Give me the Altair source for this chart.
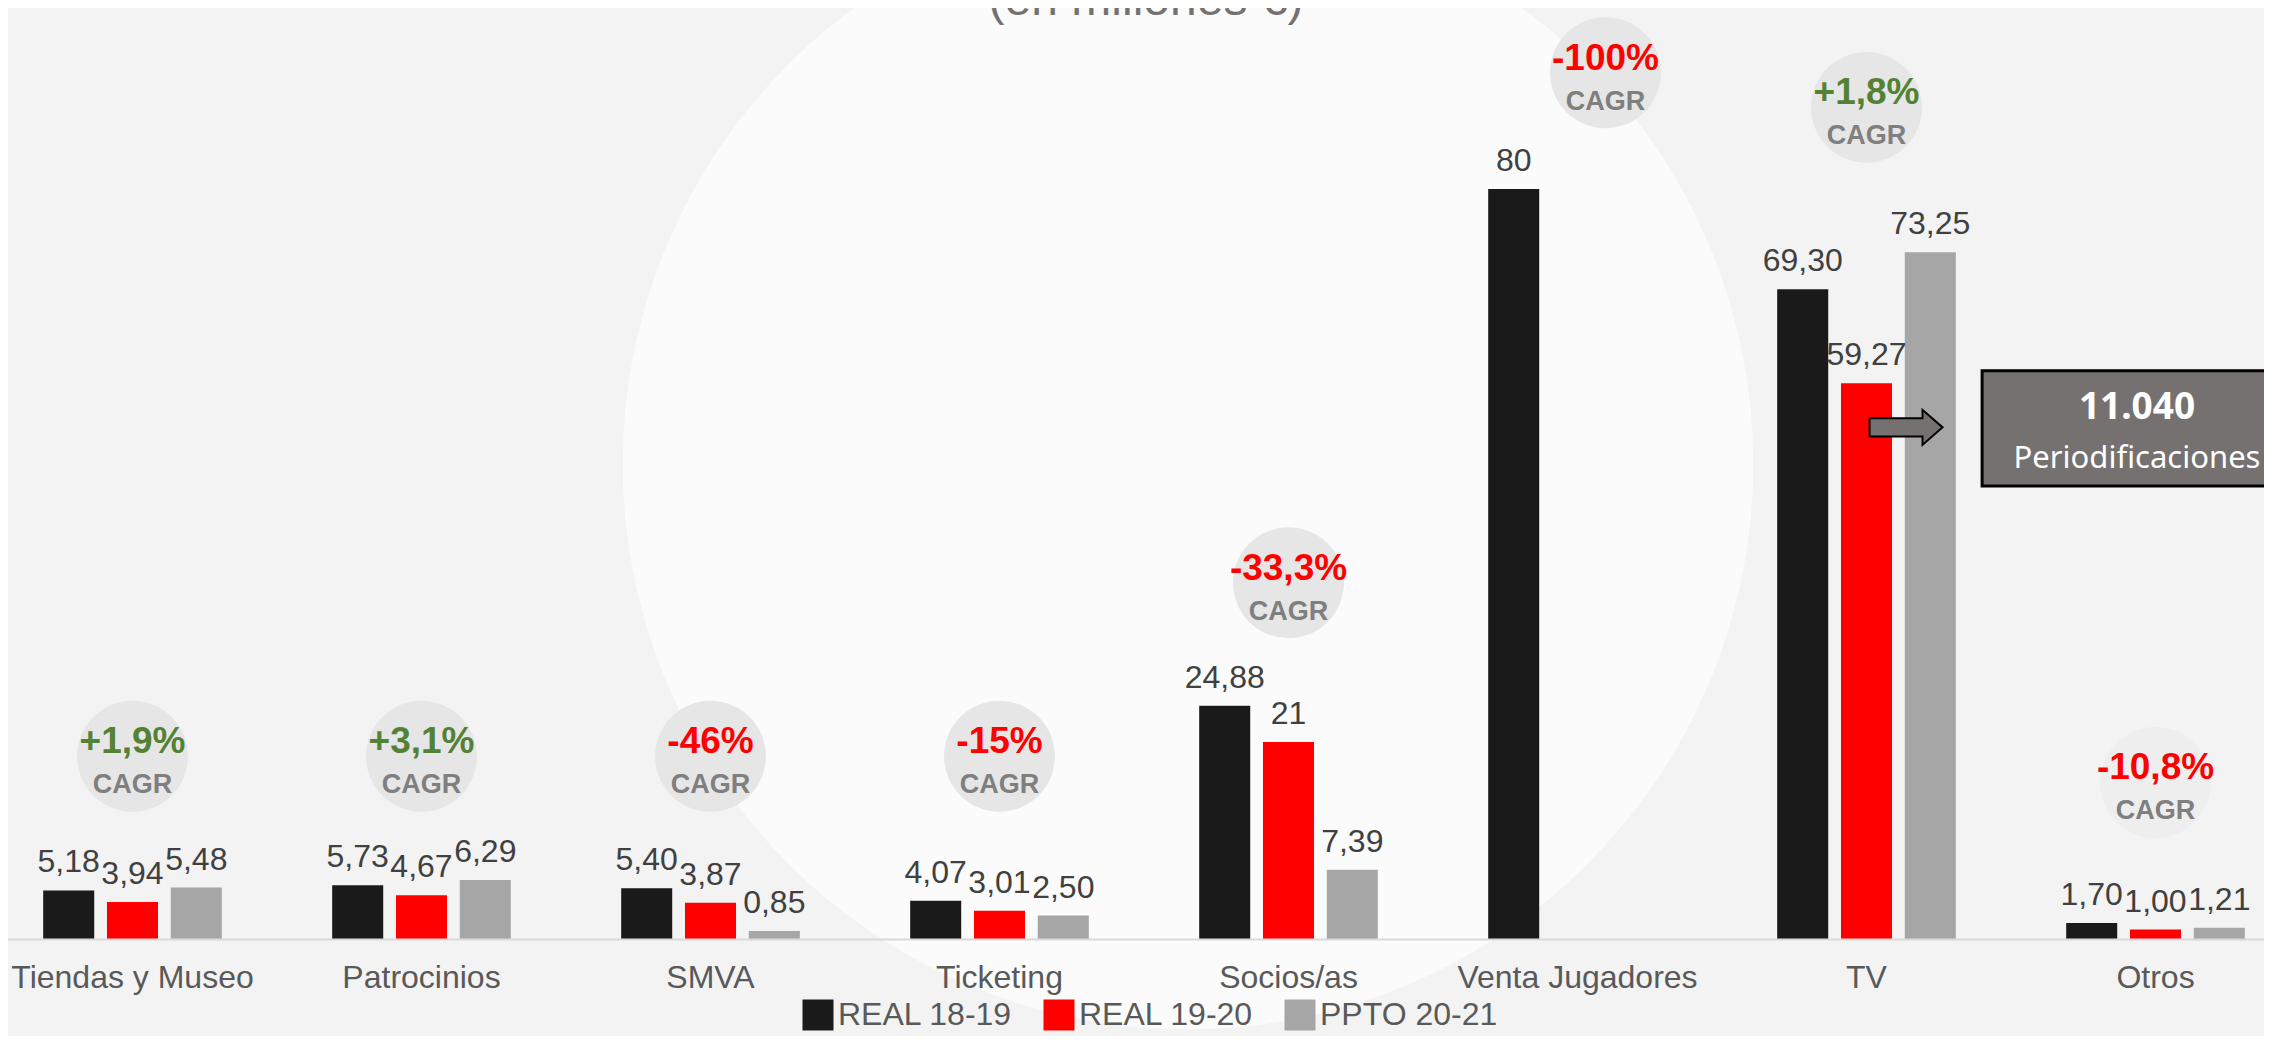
import altair as alt
import pandas as pd

# ---------------- data ----------------
title_text = "(en millones €)"
categories = ["Tiendas y Museo", "Patrocinios", "SMVA", "Ticketing",
              "Socios/as", "Venta Jugadores", "TV", "Otros"]
series = ["REAL 18-19", "REAL 19-20", "PPTO 20-21"]
series_colors = ["#1a1a1a", "#ff0000", "#a6a6a6"]

real_18_19 = [5.18, 5.73, 5.40, 4.07, 24.88, 80, 69.30, 1.70]
real_19_20 = [3.94, 4.67, 3.87, 3.01, 21, None, 59.27, 1.00]
ppto_20_21 = [5.48, 6.29, 0.85, 2.50, 7.39, None, 73.25, 1.21]

labels_18_19 = ["5,18", "5,73", "5,40", "4,07", "24,88", "80", "69,30", "1,70"]
labels_19_20 = ["3,94", "4,67", "3,87", "3,01", "21", None, "59,27", "1,00"]
labels_20_21 = ["5,48", "6,29", "0,85", "2,50", "7,39", None, "73,25", "1,21"]

cagr_labels = ["+1,9%", "+3,1%", "-46%", "-15%", "-33,3%", "-100%", "+1,8%", "-10,8%"]
# height (in millions) at which each CAGR bubble sits
cagr_level = [19.5, 19.5, 19.5, 19.5, 38.0, 92.4, 88.7, 16.7]

note_value = "11.040"
note_text = "Periodificaciones"

# ---------------- tables ----------------
rows = []
for s, vals, labs in zip(series, [real_18_19, real_19_20, ppto_20_21],
                         [labels_18_19, labels_19_20, labels_20_21]):
    for c, v, l in zip(categories, vals, labs):
        if v is not None:
            rows.append({"cat": c, "series": s, "value": v, "label": l})
bars_df = pd.DataFrame(rows)

cagr_df = pd.DataFrame({"cat": categories, "cagr": cagr_labels, "level": cagr_level})
cagr_df["tone"] = ["#548235" if t.startswith("+") else "#ff0000" for t in cagr_labels]
cagr_df["fade"] = [0.35 if c == "Otros" else 1.0 for c in categories]

FONT = "Liberation Sans"
X_SCALE = alt.Scale(domain=categories, range=[-20, 2292], paddingInner=0, paddingOuter=0)
Y_SCALE = alt.Scale(domain=[0, 99.3], nice=False, zero=True)
XOFF = alt.XOffset("series:N", scale=alt.Scale(domain=series, paddingInner=0.2, paddingOuter=0.865))

X_AXIS = alt.Axis(labelFont=FONT, labelFontSize=32, labelColor="#595959",
                  labelAngle=0, ticks=False, tickSize=0, labelPadding=23,
                  domainColor="#d9d9d9", domainWidth=2, grid=False,
                  labelLimit=400, title=None, zindex=1)


def xcat(field="cat", **kw):
    return alt.X(f"{field}:N", scale=X_SCALE, axis=X_AXIS, title=None, **kw)


y_val = alt.Y("value:Q", scale=Y_SCALE, axis=None)
y_lvl = alt.Y("level:Q", scale=Y_SCALE, axis=None)

# background swoosh
bg = alt.Chart(pd.DataFrame({"k": [0]})).mark_circle(
    size=1278000, color="#fbfbfb", opacity=1
).encode(x=alt.value(1180), y=alt.value(456))

bars = alt.Chart(bars_df).mark_bar().encode(
    x=xcat(),
    xOffset=XOFF,
    y=y_val,
    color=alt.Color("series:N", scale=alt.Scale(domain=series, range=series_colors),
                    legend=alt.Legend(orient="none", legendX=794, legendY=991,
                                      direction="horizontal", title=None,
                                      symbolType="square", symbolSize=961,
                                      symbolStrokeWidth=0, symbolOpacity=1,
                                      labelFont=FONT, labelFontSize=32,
                                      labelColor="#595959", labelOffset=4,
                                      columnPadding=30, padding=0, labelLimit=400)),
)

value_text = alt.Chart(bars_df).mark_text(
    font=FONT, fontSize=32, color="#404040", baseline="alphabetic", dy=-18
).encode(x=xcat(), xOffset=XOFF, y=y_val, text="label:N")


def bubble(df, shift):
    base = alt.Chart(df)
    circ = base.mark_circle(size=12300, color="#e6e6e6", xOffset=shift).encode(
        x=xcat(), y=y_lvl, opacity=alt.Opacity("fade:Q", scale=None))
    pct = base.mark_text(font=FONT, fontSize=37, fontWeight="bold", baseline="middle",
                         dy=-14, dx=shift).encode(
        x=xcat(), y=y_lvl, text="cagr:N", color=alt.Color("tone:N", scale=None))
    cg = base.mark_text(font=FONT, fontSize=27, fontWeight="bold", baseline="middle",
                        dy=29, dx=shift, color="#7f7f7f").encode(
        x=xcat(), y=y_lvl, text=alt.value("CAGR"))
    return [circ, pct, cg]


bub_main = bubble(cagr_df[cagr_df["cat"] != "Venta Jugadores"], 0)
bub_venta = bubble(cagr_df[cagr_df["cat"] == "Venta Jugadores"], 28)

# annotation box
box_df = pd.DataFrame({"cat": ["TV"], "end": ["Otros"], "top": [60.6], "bottom": [48.33]})
box = alt.Chart(box_df).mark_rect(fill="#767171", stroke="#000000", strokeWidth=3).encode(
    x=xcat(bandPosition=0.9),
    x2=alt.X2("end", bandPosition=1),
    y=alt.Y("top:Q", scale=Y_SCALE, axis=None),
    y2="bottom",
)
box_text_df = pd.DataFrame({"cat": ["Otros", "Otros"], "txt": [note_value, note_text],
                            "level": [56.6, 51.2]})
box_val = alt.Chart(box_text_df.iloc[[0]]).mark_text(
    font="Noto Sans", fontSize=37, fontWeight="bold", color="white", baseline="middle"
).encode(x=xcat(bandPosition=0.436), y=y_lvl, text="txt:N")
box_lbl = alt.Chart(box_text_df.iloc[[1]]).mark_text(
    font="Noto Sans", fontSize=31, color="white", baseline="middle"
).encode(x=xcat(bandPosition=0.436), y=y_lvl, text="txt:N")

arrow_df = pd.DataFrame({"cat": ["TV"], "level": [54.57]})
arrow = alt.Chart(arrow_df).mark_point(
    shape="M-1,-0.25L0.45,-0.25L0.45,-0.48L1,0L0.45,0.48L0.45,0.25L-1,0.25Z",
    size=5329, filled=True, fill="#767171", stroke="#000000", strokeWidth=2, opacity=1
).encode(x=xcat(bandPosition=0.637), y=y_lvl)

title = alt.Chart(pd.DataFrame({"t": [title_text]})).mark_text(
    font=FONT, fontSize=48, color="#767171", baseline="alphabetic", align="center"
).encode(text="t:N", x=alt.value(1138), y=alt.value(7))

chart = alt.layer(
    bg, bars, value_text, *bub_main, *bub_venta, box, box_val, box_lbl, arrow, title
).properties(
    width=2256, height=931,
    autosize=alt.AutoSizeParams(type="none"),
    padding={"left": 0, "top": 0, "right": 0, "bottom": 97},
    background="#f3f3f3",
).configure_view(strokeWidth=0)

chart.save("out.html", embed_options={"renderer": "svg", "actions": False})
